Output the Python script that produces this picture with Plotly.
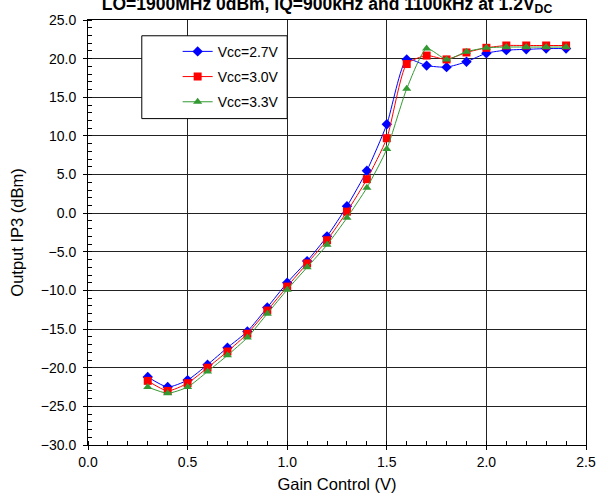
import plotly.graph_objects as go

gain_v = [0.3, 0.4, 0.5, 0.6, 0.7, 0.8, 0.9, 1.0, 1.1, 1.2, 1.3, 1.4, 1.5, 1.6, 1.7, 1.8, 1.9, 2.0, 2.1, 2.2, 2.3, 2.4]
vcc_27 = [-21.2, -22.5, -21.6, -19.6, -17.4, -15.3, -12.2, -9.0, -6.2, -3.0, 0.9, 5.5, 11.5, 19.9, 19.1, 18.9, 19.6, 20.7, 21.1, 21.2, 21.3, 21.3]
vcc_30 = [-21.7, -23.0, -22.0, -20.0, -17.9, -15.6, -12.6, -9.5, -6.5, -3.5, 0.2, 4.4, 9.7, 19.3, 20.4, 19.9, 20.8, 21.4, 21.7, 21.7, 21.7, 21.7]
vcc_33 = [-22.5, -23.3, -22.5, -20.5, -18.4, -16.1, -13.0, -9.9, -7.0, -4.1, -0.6, 3.3, 8.3, 16.1, 21.3, 19.9, 20.9, 21.4, 21.5, 21.5, 21.5, 21.5]

names = ["Vcc=2.7V", "Vcc=3.0V", "Vcc=3.3V"]
colors = ["#0000FF", "#FF0000", "#339933"]
symbols = ["diamond", "square", "triangle-up"]
sizes = [8, 8, 8]
series = [vcc_27, vcc_30, vcc_33]

FONT = "Arial, Liberation Sans, sans-serif"

W, H = 608, 502
ML, MR, MT, MB = 88, 20, 16, 55
PW, PH = W - ML - MR, H - MT - MB

def px(xp):
    return (xp - ML) / PW

def py(yp):
    return (H - MB - yp) / PH

fig = go.Figure()
for i in range(3):
    fig.add_trace(go.Scatter(
        x=gain_v, y=series[i], name=names[i], mode="lines+markers",
        legendgroup=names[i],
        line=dict(color=colors[i], width=1, shape="spline", smoothing=0.6),
        marker=dict(color=colors[i], symbol=symbols[i], size=sizes[i], line=dict(width=0)),
    ))

fig.update_layout(
    width=W, height=H,
    margin=dict(l=ML, r=MR, t=MT, b=MB),
    plot_bgcolor="white", paper_bgcolor="white",
    font=dict(family=FONT, size=14, color="black"),
    title=dict(text="<b>LO=1900MHz 0dBm, IQ=900kHz and 1100kHz at 1.2V<sub>DC</sub></b>",
               x=327 / W, xanchor="center", y=1 - 3.5 / H, yanchor="middle",
               font=dict(family=FONT, size=17.5, color="black")),
    showlegend=True,
    legend=dict(x=px(178), y=py(32), xanchor="left", yanchor="top",
                bgcolor="rgba(0,0,0,0)", borderwidth=0, tracegroupgap=4,
                font=dict(family=FONT, size=14, color="black"), itemwidth=30),
    shapes=[dict(type="rect", xref="paper", yref="paper",
                 x0=px(142), x1=px(288), y0=py(116), y1=py(32),
                 line=dict(color="black", width=1), fillcolor="white", layer="above")],
)

fig.update_xaxes(
    range=[0, 2.5], dtick=0.5, tickformat=".1f",
    showgrid=True, gridcolor="#222222", gridwidth=1,
    showline=True, linecolor="black", linewidth=1, mirror=True,
    ticks="outside", ticklen=4, tickcolor="black",
    minor=dict(dtick=0.1, ticks="inside", ticklen=4, tickcolor="black", showgrid=False),
    zeroline=False,
    title=dict(text="Gain Control (V)", font=dict(size=16.5), standoff=9),
    tickfont=dict(size=14),
)
fig.update_yaxes(
    range=[-30, 25], dtick=5, tickformat=".1f",
    showgrid=True, gridcolor="#222222", gridwidth=1,
    showline=True, linecolor="black", linewidth=1, mirror=True,
    ticks="outside", ticklen=4, tickcolor="black",
    minor=dict(dtick=1, ticks="inside", ticklen=4, tickcolor="black", showgrid=False),
    zeroline=False, ticklabelstandoff=4,
    title=dict(text="Output IP3 (dBm)", font=dict(size=16.5), standoff=12),
    tickfont=dict(size=14),
)

fig.write_html("out.html", config={"displayModeBar": False},
               post_script="document.body.style.margin='0px';document.body.style.overflow='hidden';")
